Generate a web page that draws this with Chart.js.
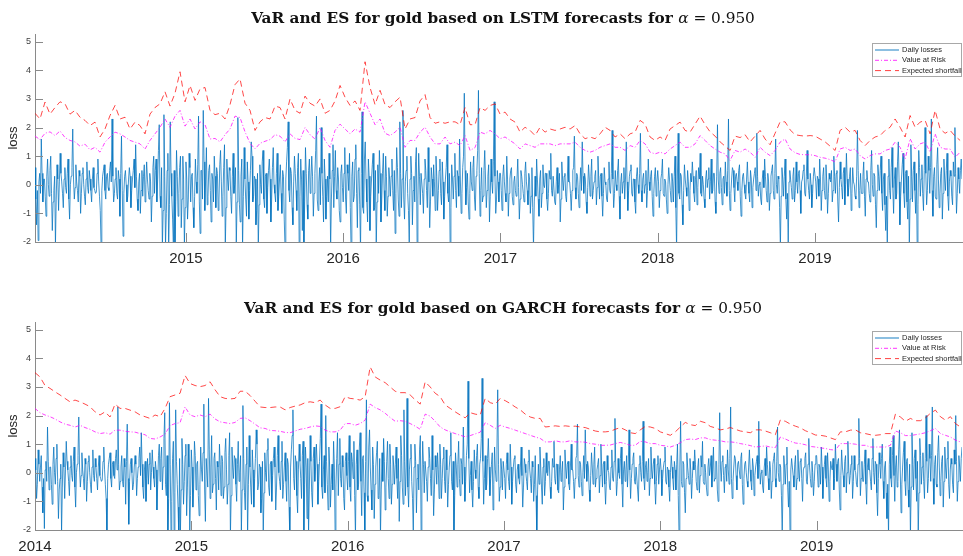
<!DOCTYPE html>
<html>
<head>
<meta charset="utf-8">
<script src="https://cdn.jsdelivr.net/npm/chart.js@4.4.1/dist/chart.umd.min.js"></script>
<style>
  html, body { margin: 0; padding: 0; background: #fff; }
  body { width: 963px; height: 556px; position: relative; overflow: hidden; }
  canvas { position: absolute; left: 0; }
  #lstmChart { top: 0; }
  #garchChart { top: 288px; }
</style>
</head>
<body>
<canvas id="lstmChart" width="963" height="288"></canvas>
<canvas id="garchChart" width="963" height="268"></canvas>
<script>
// Daily losses of gold (in %), one value every lossStep years from the start of each year
const lossStep = 0.005;
const loss2014 = [
  0.5, 0.1, -0.9, -0.4, 0.8, 0.3, -0.3, 0.2, 0.6, -0.5, -1.4, -0.2, -1.95, 0.1, 0.4, -0.3, 1.6, 0.4, -0.6, 0.2,
  0.2, -0.4, -1.1, 0.3, 0.9, 0.0, -0.4, 0.5, 1.0, -0.3, -1.6, -0.6, -0.2, 0.3, -2.1, -0.5, 0.7, 0.2, -0.9, 0.1,
  1.1, 0.4, 0.1, -0.3, -0.8, 0.2, 0.6, -0.1, -0.3, 0.4, 0.9, -0.5, -1.2, 0.0, 0.3, 0.6, 1.95, 0.2, -0.5, -0.1,
  0.7, 0.1, -0.2, -0.6, 0.5, 0.3, -1.0, -0.3, 0.4, 0.6, 0.0, -0.4, -0.7, 0.2, 0.8, -0.1, -0.3, 0.5, 0.2, -0.2,
  -0.6, 0.2, 0.6, -0.1, -0.2, -0.3, -0.25, 0.4, 0.9, 0.1, -0.4, -0.9, -2.1, -0.2, 0.3, 0.5, 0.7, -0.2, -0.5, 0.3,
  0.4, -0.1, -0.2, 0.5, 0.8, 0.1, 2.3, 0.3, -0.6, -0.3, 0.2, 0.6, -0.3, -0.5, 0.5, 0.2, -1.1, 0.4, 1.7, -0.2,
  -1.8, -0.3, 0.3, 0.5, 0.0, -0.6, -0.4, 0.2, 0.6, 0.3, -0.8, -0.2, 0.2, 0.5, 0.9, -0.1, 1.4, 0.3, -0.5, -0.9,
  0.1, 0.4, -1.0, -0.2, 0.5, -0.4, 0.3, 0.7, -0.6, 0.0, 0.8, 0.2, -0.2, -0.5, 0.4, 0.1, -1.3, -0.4, 0.6, 1.0,
  -0.3, 0.5, 0.9, -0.6, 0.2, 1.2, 2.1, -0.4, -0.8, 0.6, -2.2, -0.9, 2.45, 0.3, -2.1, -1.0, 0.5, 1.1, -2.3, -0.7,
  2.2, 0.4, -0.4, -1.2, -2.2, 0.5, -2.2, -0.6, 1.2, 0.3, -1.1, -0.3, 0.6, 1.0, -1.5, -0.5, 1.0, 0.2, -2.1, -0.8
];
const loss2015 = [
  0.8, 0.2, -1.2, -0.5, 1.1, 0.6, -0.6, 0.3, 0.4, -0.8, -1.5, -0.4, 0.9, 0.1, -0.3, 0.7, 2.4, -0.6, -1.7, 0.5,
  0.5, -0.5, 2.6, 0.8, -0.9, 0.2, 1.3, -0.7, -0.4, 0.5, 0.7, -0.2, -1.3, 0.4, 0.2, -0.6, 1.0, 0.3, -0.8, 0.6,
  0.4, -0.9, -0.5, 0.7, 1.2, 0.1, -1.1, -0.4, 0.6, 1.4, -2.2, -0.8, 0.9, 0.2, -0.2, 0.6, 0.5, -0.4, -1.0, 0.3,
  1.1, -0.3, 0.0, 0.6, -2.1, -0.6, 2.35, 0.5, -0.7, -1.3, 0.3, 0.9, -2.2, -0.4, 1.3, 0.2, -0.5, -1.1, 0.8, 0.1,
  -1.2, -0.2, 0.5, 1.5, 1.0, -0.6, -0.4, 0.3, 0.2, -1.4, -0.9, 0.4, -2.2, -0.7, 0.7, 0.0, -0.3, 0.8, 1.2, -0.5,
  -0.8, 0.3, 0.4, -1.0, -0.1, 0.5, 0.9, 0.2, -1.3, -0.5, 0.6, 1.3, 0.0, -0.3, -0.6, 0.4, 1.1, -0.9, -0.4, 0.2,
  0.7, -0.3, -1.0, 0.5, 0.3, -1.2, -2.2, 0.2, 0.8, 1.3, 2.2, -0.2, -0.6, 0.6, 0.4, -0.8, -1.4, 0.1, 1.0, 0.4,
  -0.2, -0.9, 0.6, 1.1, -2.2, -0.4, 0.9, 0.2, -1.6, 0.5, -2.1, -0.6, 1.3, 0.4, -0.7, -1.2, 0.5, 0.9, -0.3, 0.2,
  1.0, 0.3, -1.1, -0.3, 0.4, 1.2, 2.4, -0.5, -0.9, 0.1, 0.6, -0.7, 2.0, 0.4, -0.4, -1.3, 0.9, 0.2, -1.2, -0.4,
  0.3, -0.6, 1.1, 0.2, -2.2, -0.5, 0.5, 1.4, -0.8, 0.3, 1.2, -0.2, -0.5, 0.6, 0.2, -0.9, -1.3, 0.4, 0.7, -0.1
];
const loss2016 = [
  -0.6, 0.4, 1.3, -0.5, -1.0, 0.7, 0.4, -0.2, 1.1, -0.8, -2.2, 0.3, 0.8, -0.6, -0.4, 0.9, 1.4, -0.3, -1.5, 0.5,
  0.6, -0.7, -2.3, 0.4, 2.55, -0.8, -1.0, 0.9, 1.5, 0.2, -0.6, -1.3, 0.9, 0.3, -1.6, -0.4, 0.2, 0.7, 1.1, -0.9,
  -0.8, 0.5, -2.2, -0.6, 0.7, -0.3, 1.2, 0.4, -1.3, -0.5, 0.4, 1.1, -0.2, -0.9, 1.0, 0.3, -1.1, -0.4, 0.6, 0.2,
  -0.4, 0.3, 0.9, -0.2, -0.9, 0.5, -1.7, -0.3, 1.3, 0.6, -0.5, -1.1, 2.2, 0.4, -0.8, 0.2, 2.6, -0.5, -1.2, 0.1,
  0.5, 1.0, -0.3, -0.9, -2.2, 0.2, 1.0, 0.4, -1.4, -0.2, 0.3, -0.6, 0.8, 1.3, -2.2, -0.5, 1.1, 0.3, -0.7, 0.4,
  0.4, -0.3, -1.0, 0.2, 0.9, 0.5, -0.2, -0.8, 1.3, 0.1, -1.5, -0.6, 0.6, 0.2, -0.4, 0.7, 0.1, -0.9, 1.0, 0.3,
  -0.9, -0.2, 0.5, 0.9, -0.3, -0.7, 0.8, 0.1, -1.2, -0.4, 0.2, 0.6, 1.4, -0.3, -0.6, 0.4, -2.2, -0.8, 0.7, 0.2,
  -0.5, 0.3, 1.1, -0.2, -0.8, 0.5, 0.3, -0.4, 1.6, 0.2, -1.0, -0.3, 0.6, 1.0, 3.2, 0.5, -0.7, -0.1, 0.4, -0.6,
  -1.2, -0.3, 0.8, 0.1, -0.2, 0.6, 1.0, -0.5, -0.9, 0.3, 0.5, 1.2, 3.3, 0.4, -1.1, -0.2, 0.6, -0.6, -0.4, 0.5,
  1.2, 0.2, -0.8, -0.2, 0.3, 0.7, -1.3, -0.4, 0.9, 0.1, -0.3, 0.8, 2.9, 0.3, -1.0, -0.5, 0.5, 0.1, -0.6, 0.4
];
const loss2017 = [
  0.4, -0.2, -0.9, 0.3, 0.7, 0.1, -0.3, -0.6, 1.0, 0.2, -1.1, -0.3, 0.2, 0.5, 0.6, -0.4, -0.7, 0.1, 0.3, -0.2,
  -0.4, 0.2, 0.9, -0.1, -1.2, -0.5, 0.5, 0.3, 0.0, -0.3, -0.6, 0.4, 0.8, 0.1, -0.2, -0.7, 0.4, 0.2, -1.0, -0.4,
  0.6, -0.8, -2.2, -0.6, 0.3, -0.4, 0.9, 0.2, -0.5, -1.1, 0.2, 0.5, -0.8, -0.3, 0.7, 0.0, -0.1, 0.4, 0.4, -0.5,
  -0.9, -0.3, 0.5, 0.2, 1.1, -0.2, -0.4, 0.3, 0.3, -0.6, -0.7, 0.1, 0.6, -0.3, 0.0, 0.4, -1.3, -0.5, 0.8, 0.2,
  -0.2, 0.3, 0.4, -0.4, -0.6, 0.2, 1.0, 0.1, 0.1, -0.3, -0.9, -0.2, 0.5, 0.6, 1.7, -0.1, -0.5, 0.4, 0.3, -0.3,
  -0.8, 0.0, 0.6, -0.2, 1.5, 0.3, -0.3, 0.4, 0.2, -0.6, -1.0, -0.1, 0.7, 0.2, -0.4, 0.3, 0.9, -0.5, -0.2, 0.1,
  0.3, 0.5, -0.7, -0.1, 1.0, 0.2, -0.5, 0.3, 0.4, -0.4, -1.1, -0.3, 0.6, 0.1, 0.0, -0.5, -0.6, 0.2, 0.8, -0.2,
  -0.3, 0.4, 1.9, 0.2, -0.8, -0.3, 0.5, 0.0, -0.2, 0.5, 0.9, -0.4, -1.2, 0.1, 0.4, -0.3, 0.1, 0.6, -0.5, 0.2,
  1.5, 0.1, -0.9, -0.2, 0.3, 0.5, 0.7, -0.3, -0.4, 0.2, 0.2, -0.6, -1.0, 0.3, 0.6, 0.0, -0.3, 0.4, 1.8, -0.2,
  -0.6, 0.2, 0.4, -0.3, 0.0, 0.5, -0.8, -0.2, 0.9, 0.1, -0.2, 0.3, 0.5, -0.4, -1.1, -0.3, 0.3, 0.6, -0.4, 0.1
];
const loss2018 = [
  0.5, 0.1, -0.8, -0.2, 0.2, 0.4, 0.9, -0.3, -0.4, 0.2, 0.1, -0.5, -1.0, 0.0, 0.6, 0.2, -0.2, -0.6, 0.4, 0.1,
  -0.6, 0.3, 1.0, -0.8, -2.2, 0.2, 1.8, -0.3, -0.5, 0.4, 0.3, -0.7, -1.4, -0.2, 0.7, 0.2, -0.1, -0.4, 0.5, 0.1,
  -0.9, -0.2, 0.4, 0.1, 0.8, 0.3, -0.3, -0.6, 0.2, 0.5, -0.7, -0.1, 0.6, 0.2, 1.1, -0.3, -0.4, 0.3, 0.0, -0.5,
  -0.8, 0.2, 0.5, -0.1, 0.2, 0.6, -0.5, 0.1, 0.9, -0.3, -0.2, 0.4, 0.4, -0.6, -1.0, 0.3, 2.1, 0.2, -0.3, 0.4,
  0.6, -0.1, -0.7, 0.2, 0.3, -0.3, 0.8, 0.1, -0.4, 0.5, 2.3, -0.2, -0.9, -0.3, 0.2, 0.6, 0.5, -0.1, -0.6, 0.3,
  0.4, 0.1, -0.2, 0.5, 0.7, -0.4, -1.1, -0.2, 0.3, 0.4, 0.0, -0.3, -0.5, 0.2, 0.8, 0.1, -0.3, -0.6, 0.5, 0.2,
  -0.8, -0.1, 0.2, 0.4, 0.6, -0.2, 1.8, 0.3, -0.4, 0.0, 0.1, -0.5, -0.7, 0.2, 0.5, -0.1, 0.9, 0.3, -0.2, -0.6,
  0.4, 0.1, -0.9, -0.3, 0.3, 0.5, 0.7, -0.2, -0.5, 0.4, 1.6, 0.0, -0.3, 0.3, 0.2, -0.8, -2.2, -0.4, 0.6, 0.2,
  -0.4, 0.3, 0.9, -0.5, -1.2, -0.3, -2.2, 0.1, 0.5, 0.2, -0.1, -0.5, 0.3, 0.6, -0.6, -0.2, 0.8, 0.1, -0.3, 0.4,
  0.5, -0.2, -1.0, 0.1, 0.2, 0.5, 0.7, -0.3, -0.4, 0.3, 1.2, 0.2, -0.2, -0.5, 0.4, 0.0, -0.8, -0.3, 0.3, 0.6
];
const loss2019 = [
  0.6, 0.1, -0.5, 0.3, 0.2, -0.4, 0.9, 0.2, -0.9, -0.2, 0.3, 0.6, -0.2, -0.5, 0.7, 0.1, -1.0, -0.3, 0.4, 0.2,
  0.1, 0.5, -0.6, -0.2, 1.0, 0.3, -0.3, 0.4, 0.5, -0.6, -1.3, -0.1, 0.8, 0.2, -0.1, -0.5, 0.4, 0.6, -0.7, 0.0,
  1.1, 0.2, -0.4, -0.1, 0.3, 0.6, -0.9, -0.3, 0.6, 0.1, 0.0, -0.4, -0.5, 0.3, 1.9, 0.5, -0.8, -0.2, 0.4, -0.3,
  -0.3, 0.3, 0.8, -0.4, -1.1, 0.2, 0.5, 0.1, 0.1, -0.3, -0.6, 0.5, 1.2, 0.0, -0.4, 0.4, 0.3, -0.7, -1.5, -0.2,
  0.7, 0.3, -0.2, 0.5, 1.0, -0.3, -0.9, 0.2, 0.4, -0.7, -1.6, -0.4, -2.2, 0.3, 0.9, -0.2, -0.5, 0.6, 1.3, -0.1,
  -1.0, 0.2, 0.6, -0.5, -0.3, 0.8, 1.5, 0.1, -1.4, -0.4, 0.2, 0.7, 1.1, -0.3, -0.8, 0.4, 0.5, -0.6, -1.2, 0.3,
  -2.2, -0.5, 1.4, 0.3, -0.6, 0.5, 0.8, -0.2, -1.0, 0.4, -2.2, -0.7, 1.2, 0.6, -0.4, 0.2, 0.7, -0.3, -0.9, 0.5,
  2.0, 0.4, -0.7, -0.2, 1.0, 0.5, -0.3, 0.6, 2.3, -0.2, -1.1, 0.3, 0.6, -0.4, -0.5, 0.7, 1.3, 0.2, -0.8, -0.3,
  0.4, 0.6, -1.2, -0.3, 0.9, 0.2, -0.2, 0.5, 1.1, -0.4, -0.9, 0.1, 0.5, 0.3, -0.4, -0.7, 0.8, 0.3, 2.0, 0.4,
  -1.0, -0.3, 0.6, 0.2, -0.3, 0.5, 0.9, 0.2
];

// LSTM forecasts, one value every lstmStep years from lstmStart
const lstmStart = 2014.04;
const lstmStep = 0.0318;
const lstmVaR = [
  1.7, 1.58, 1.8, 1.85, 1.72, 1.88, 1.65, 1.55, 1.5, 1.35,
  1.42, 1.22, 1.31, 1.14, 1.49, 1.67, 1.84, 1.78, 1.67, 1.55,
  1.49, 1.43, 1.25, 1.55, 1.78, 2.01, 2.3, 2.01, 2.4, 2.6,
  2.05, 2.3, 1.95, 2.2, 2.1, 1.6, 1.62, 1.5, 1.75, 1.95,
  2.4, 2.35, 1.85, 1.45, 1.25, 1.45, 1.52, 1.58, 1.75, 1.7,
  1.5, 1.78, 1.62, 1.58, 2.0, 1.75, 1.6, 2.0, 1.55, 1.31,
  1.9, 2.12, 1.95, 1.78, 1.95, 1.84, 2.9, 2.5, 2.1, 2.3,
  1.8, 1.72, 1.84, 2.01, 1.31, 1.55, 1.55, 1.84, 2.01, 1.67,
  1.43, 1.43, 1.67, 1.43, 1.49, 1.37, 1.72, 1.2, 1.3, 1.84,
  1.78, 1.9, 1.78, 1.61, 1.67, 1.55, 1.43, 1.25, 1.43, 1.37,
  1.31, 1.43, 1.43, 1.43, 1.37, 1.43, 1.43, 1.43, 1.49, 1.31,
  1.2, 1.14, 1.2, 1.31, 1.37, 1.43, 1.31, 1.31, 1.2, 1.37,
  1.31, 1.55, 1.43, 1.14, 1.08, 1.14, 1.08, 1.25, 1.37, 1.49,
  1.31, 1.31, 1.43, 1.72, 1.55, 1.37, 1.25, 1.14, 1.08, 0.85,
  1.2, 1.14, 1.25, 1.14, 0.96, 1.31, 1.14, 1.02, 1.2, 1.49,
  1.6, 1.25, 1.12, 1.06, 1.05, 1.05, 1.02, 0.96, 0.93, 0.88,
  0.8, 1.25, 1.31, 1.2, 1.25, 1.02, 0.9, 1.02, 1.08, 1.08,
  1.2, 1.25, 1.49, 1.31, 0.9, 1.61, 1.25, 1.43, 1.49, 1.14,
  1.78, 1.31, 1.25, 1.25, 0.96, 1.14
];
const lstmES = [
  2.5, 2.3, 2.89, 2.47, 2.7, 2.9, 2.83, 2.47, 2.6, 2.36,
  2.25, 2.07, 2.19, 1.67, 1.95, 2.42, 2.77, 2.3, 2.36, 1.95,
  2.19, 2.07, 1.78, 2.47, 2.7, 2.83, 3.25, 2.75, 3.2, 3.95,
  2.9, 3.47, 2.95, 3.35, 3.4, 2.6, 2.45, 2.5, 2.3, 2.8,
  3.5, 3.7, 2.85, 2.6, 1.9, 2.2, 2.35, 2.3, 2.75, 2.7,
  2.3, 3.0, 2.6, 2.5, 3.1, 2.85, 2.75, 3.0, 2.5, 2.6,
  2.93, 3.47, 3.06, 2.77, 2.93, 2.6, 4.3, 3.4, 2.8, 3.3,
  2.8, 2.7, 2.9, 3.06, 1.95, 2.3, 2.35, 2.93, 3.15, 2.35,
  2.15, 2.2, 2.15, 2.2, 2.2, 2.1, 2.7, 2.1, 2.1, 2.7,
  2.6, 2.77, 2.83, 2.47, 2.54, 2.3, 2.19, 1.84, 2.01, 1.9,
  1.72, 2.01, 1.84, 1.95, 1.9, 1.95, 2.01, 1.95, 2.07, 1.78,
  1.61, 1.67, 1.61, 1.78, 2.01, 1.9, 1.67, 1.78, 1.61, 1.78,
  1.84, 2.25, 2.12, 1.67, 1.55, 1.67, 1.55, 1.95, 2.07, 2.19,
  1.9, 1.84, 2.12, 2.4, 2.1, 1.85, 1.7, 1.5, 1.35, 1.2,
  1.7, 1.65, 1.75, 1.5, 1.7, 1.9, 1.6, 1.4, 1.8, 2.2,
  2.2, 1.92, 1.75, 1.72, 1.7, 1.72, 1.7, 1.6, 1.5, 1.35,
  1.2, 1.9, 2.01, 1.84, 1.9, 1.55, 1.37, 1.55, 1.67, 1.72,
  1.9, 2.01, 2.3, 2.01, 1.67, 2.42, 2.01, 2.19, 2.25, 1.78,
  2.6, 1.95, 1.8, 1.9, 1.7, 1.55
];

// GARCH forecasts, one value every garchStep years from garchStart
const garchStart = 2014.0;
const garchStep = 0.032;
const garchVaR = [
  2.25, 2.1, 2.02, 1.96, 1.88, 1.78, 1.7, 1.66, 1.6, 1.66,
  1.58, 1.52, 1.43, 1.37, 1.4, 1.35, 1.49, 1.49, 1.45, 1.43,
  1.42, 1.37, 1.33, 1.2, 1.18, 1.25, 1.35, 1.65, 1.72, 1.75,
  2.3, 2.02, 1.96, 2.02, 1.96, 2.05, 1.88, 1.78, 1.75, 1.72,
  1.76, 1.9, 1.92, 1.82, 1.7, 1.57, 1.55, 1.48, 1.47, 1.45,
  1.41, 1.4, 1.46, 1.52, 1.55, 1.6, 1.64, 1.62, 1.49, 1.43,
  1.43, 1.49, 1.72, 1.72, 1.66, 1.72, 1.84, 2.4, 2.28, 2.2,
  2.08, 1.93, 1.8, 1.82, 1.8, 1.72, 1.63, 1.52, 2.05, 1.98,
  1.8, 1.6, 1.5, 1.43, 1.37, 1.31, 1.26, 1.3, 1.36, 1.42,
  1.75, 1.66, 1.55, 1.66, 1.6, 1.55, 1.49, 1.43, 1.37, 1.31,
  1.25, 1.2, 1.08, 1.08, 1.12, 1.08, 1.08, 1.12, 1.08, 1.08,
  1.07, 1.02, 1.0, 0.96, 0.96, 0.97, 1.02, 1.06, 1.02, 0.96,
  0.96, 1.1, 1.08, 1.02, 1.02, 0.96, 0.94, 0.9, 0.96, 1.05,
  1.16, 1.18, 1.16, 1.22, 1.22, 1.16, 1.14, 1.12, 1.08, 1.08,
  1.06, 1.02, 0.99, 0.95, 0.9, 0.92, 0.94, 0.9, 0.88, 1.25,
  1.18, 1.1, 1.04, 1.02, 0.98, 0.92, 0.9, 0.87, 0.85, 0.81,
  0.79, 1.02, 1.02, 1.02, 1.0, 0.96, 0.96, 0.9, 0.9, 0.9,
  0.9, 0.96, 1.46, 1.4, 1.3, 1.3, 1.33, 1.36, 1.4, 1.47,
  1.55, 1.37, 1.31, 1.25, 1.14, 1.08
];
const garchES = [
  3.5, 3.35, 3.05, 2.95, 2.83, 2.72, 2.6, 2.48, 2.54, 2.48,
  2.4, 2.31, 2.13, 2.02, 2.13, 1.95, 2.4, 2.25, 2.25, 2.19,
  2.13, 2.02, 1.96, 1.9, 2.02, 1.96, 2.25, 2.66, 2.72, 2.78,
  3.4, 3.12, 3.05, 3.01, 3.05, 3.18, 2.9, 2.66, 2.6, 2.58,
  2.6, 2.85, 2.85, 2.7, 2.5, 2.3, 2.28, 2.28, 2.3, 2.3,
  2.2, 2.28, 2.33, 2.37, 2.45, 2.48, 2.45, 2.54, 2.37, 2.25,
  2.25, 2.31, 2.66, 2.6, 2.58, 2.54, 2.66, 3.7, 3.35, 3.24,
  3.15, 3.0, 2.85, 2.8, 2.8, 2.72, 2.55, 2.4, 3.18, 3.0,
  2.78, 2.66, 2.37, 2.25, 2.13, 2.02, 1.92, 2.1, 2.05, 2.02,
  2.6, 2.45, 2.4, 2.6, 2.52, 2.42, 2.3, 2.2, 2.05, 1.95,
  1.9, 1.9, 1.6, 1.62, 1.64, 1.62, 1.64, 1.62, 1.63, 1.6,
  1.58, 1.52, 1.46, 1.43, 1.43, 1.45, 1.52, 1.58, 1.5, 1.4,
  1.37, 1.5, 1.62, 1.6, 1.55, 1.43, 1.37, 1.31, 1.43, 1.6,
  1.76, 1.68, 1.65, 1.8, 1.75, 1.62, 1.57, 1.5, 1.53, 1.58,
  1.52, 1.46, 1.43, 1.4, 1.5, 1.5, 1.46, 1.4, 1.33, 1.85,
  1.8, 1.7, 1.63, 1.57, 1.47, 1.4, 1.32, 1.31, 1.28, 1.22,
  1.16, 1.43, 1.43, 1.49, 1.5, 1.4, 1.37, 1.33, 1.31, 1.33,
  1.37, 1.37, 2.05, 1.95, 1.8, 1.9, 1.82, 1.82, 1.92, 2.08,
  2.19, 1.96, 1.84, 1.96, 1.72, 1.6
];

// Axis ticks and labels
const yearTicks = [2014, 2015, 2016, 2017, 2018, 2019];
const lossTicks = [-2, -1, 0, 1, 2, 3, 4, 5];
const seriesNames = ['Daily losses', 'Value at Risk', 'Expected shortfall'];
const alphaLevel = '0.950';

const AXIS_GREY = '#8a8a8a';
const TEXT_DARK = '#262626';
const SANS = '"Liberation Sans", Arial, sans-serif';

function lossPoints() {
  const years = [[2014, loss2014], [2015, loss2015], [2016, loss2016],
                 [2017, loss2017], [2018, loss2018], [2019, loss2019]];
  const pts = [];
  years.forEach(([yr, arr]) => arr.forEach((v, i) => pts.push({ x: yr + i * lossStep, y: v })));
  return pts;
}
function forecastPoints(start, step, arr) {
  return arr.map((v, i) => ({ x: start + i * step, y: v }));
}

// Tick marks drawn inside the plot box
const inwardTicks = {
  id: 'inwardTicks',
  afterDraw(chart) {
    const { ctx, chartArea: a, scales: { x, y } } = chart;
    ctx.save();
    ctx.strokeStyle = AXIS_GREY;
    ctx.lineWidth = 1;
    ctx.beginPath();
    x.ticks.forEach(t => {
      const p = Math.round(x.getPixelForValue(t.value)) + 0.5;
      ctx.moveTo(p, a.bottom); ctx.lineTo(p, a.bottom - 9);
    });
    y.ticks.forEach(t => {
      const p = Math.round(y.getPixelForValue(t.value)) + 0.5;
      ctx.moveTo(a.left, p); ctx.lineTo(a.left + 8, p);
    });
    ctx.stroke();
    ctx.restore();
  }
};

// Title with a bold text part and a math part for alpha
const mathTitle = {
  id: 'mathTitle',
  afterDraw(chart, args, opts) {
    const ctx = chart.ctx;
    const fam = '"DejaVu Serif", "Liberation Serif", serif';
    const parts = [
      [opts.text + ' for ', `bold ${opts.size}px ${fam}`],
      ['\u03B1', `italic ${opts.size}px ${fam}`],
      [' = ' + opts.level, `${opts.size}px ${fam}`]
    ];
    let total = 0;
    parts.forEach(p => { ctx.font = p[1]; p.push(ctx.measureText(p[0]).width); total += p[2]; });
    let x = opts.centerX - total / 2;
    ctx.save();
    ctx.fillStyle = '#111';
    ctx.textBaseline = 'alphabetic';
    parts.forEach(p => { ctx.font = p[1]; ctx.fillText(p[0], x, opts.baseline); x += p[2]; });
    ctx.restore();
  }
};

// Boxed legend in the upper right corner of the plot
const boxLegend = {
  id: 'boxLegend',
  afterDraw(chart) {
    const { ctx, chartArea: a } = chart;
    const left = 872, top = a.top + 9, w = a.right - left, h = 34;
    ctx.save();
    ctx.fillStyle = '#fff';
    ctx.fillRect(left, top, w, h);
    ctx.strokeStyle = '#a8a8a8';
    ctx.lineWidth = 1;
    ctx.strokeRect(left + 0.5, top + 0.5, w - 1, h - 1);
    ctx.font = '7.5px ' + SANS;
    ctx.textBaseline = 'middle';
    chart.data.datasets.forEach((ds, i) => {
      const yy = top + 7 + i * 10.3;
      ctx.strokeStyle = ds.legendColor;
      ctx.lineWidth = ds.legendWidth;
      ctx.setLineDash(ds.borderDash || []);
      ctx.beginPath();
      ctx.moveTo(left + 3, yy); ctx.lineTo(left + 27, yy);
      ctx.stroke();
      ctx.setLineDash([]);
      ctx.fillStyle = TEXT_DARK;
      ctx.fillText(ds.label, left + 30, yy);
    });
    ctx.restore();
  }
};

function makeChart(canvasId, opts) {
  const xTicks = yearTicks.filter(v => v >= opts.xMin && v <= opts.xMax);
  return new Chart(document.getElementById(canvasId), {
    type: 'line',
    data: {
      datasets: [
        {
          label: seriesNames[0], data: lossPoints(), order: 3,
          borderColor: '#0072BD', borderWidth: 0.75,
          legendColor: 'rgba(0,114,189,0.45)', legendWidth: 2
        },
        {
          label: seriesNames[1], data: opts.varPts, order: 2,
          borderColor: 'rgba(255,0,255,0.75)', borderWidth: 1, borderDash: [4, 2, 1, 2],
          legendColor: 'rgba(255,0,255,0.8)', legendWidth: 1
        },
        {
          label: seriesNames[2], data: opts.esPts, order: 1,
          borderColor: 'rgba(255,0,0,0.72)', borderWidth: 1, borderDash: [6, 4],
          legendColor: 'rgba(255,0,0,0.75)', legendWidth: 1
        }
      ]
    },
    options: {
      responsive: false,
      maintainAspectRatio: false,
      devicePixelRatio: 1,
      animation: false,
      events: [],
      parsing: false,
      normalized: true,
      elements: { point: { radius: 0 }, line: { tension: 0, borderJoinStyle: 'miter' } },
      layout: { padding: { top: 34, right: 1, left: 0, bottom: 0 } },
      plugins: {
        legend: { display: false },
        tooltip: { enabled: false },
        mathTitle: { text: opts.title, level: alphaLevel, size: 15.3, centerX: 503, baseline: opts.titleBaseline }
      },
      scales: {
        x: {
          type: 'linear', min: opts.xMin, max: opts.xMax,
          afterBuildTicks: s => { s.ticks = xTicks.map(v => ({ value: v })); },
          afterFit: s => { s.height = opts.xAxisHeight; },
          grid: { display: false, drawTicks: false },
          border: { display: true, color: AXIS_GREY, width: 1 },
          ticks: {
            autoSkip: false, maxRotation: 0, padding: 8, color: TEXT_DARK,
            font: { family: SANS, size: 15 },
            callback: v => String(v)
          }
        },
        y: {
          type: 'linear', min: -2, max: 5.27,
          afterBuildTicks: s => { s.ticks = lossTicks.map(v => ({ value: v })); },
          afterFit: s => { s.width = 35; },
          grid: { display: false, drawTicks: false },
          border: { display: true, color: AXIS_GREY, width: 1 },
          ticks: {
            autoSkip: false, padding: 4, color: '#404040',
            font: { family: SANS, size: 9 },
            callback: v => String(v)
          },
          title: {
            display: true, text: 'loss', color: TEXT_DARK,
            font: { family: SANS, size: 13 },
            padding: { top: 6, bottom: 0 }
          }
        }
      }
    },
    plugins: [inwardTicks, boxLegend, mathTitle]
  });
}

makeChart('lstmChart', {
  title: 'VaR and ES for gold based on LSTM forecasts',
  xMin: 2014.04, xMax: 2019.935, xAxisHeight: 46, titleBaseline: 23,
  varPts: forecastPoints(lstmStart, lstmStep, lstmVaR),
  esPts: forecastPoints(lstmStart, lstmStep, lstmES)
});
makeChart('garchChart', {
  title: 'VaR and ES for gold based on GARCH forecasts',
  xMin: 2014.0, xMax: 2019.93, xAxisHeight: 26, titleBaseline: 25,
  varPts: forecastPoints(garchStart, garchStep, garchVaR),
  esPts: forecastPoints(garchStart, garchStep, garchES)
});
</script>
</body>
</html>
